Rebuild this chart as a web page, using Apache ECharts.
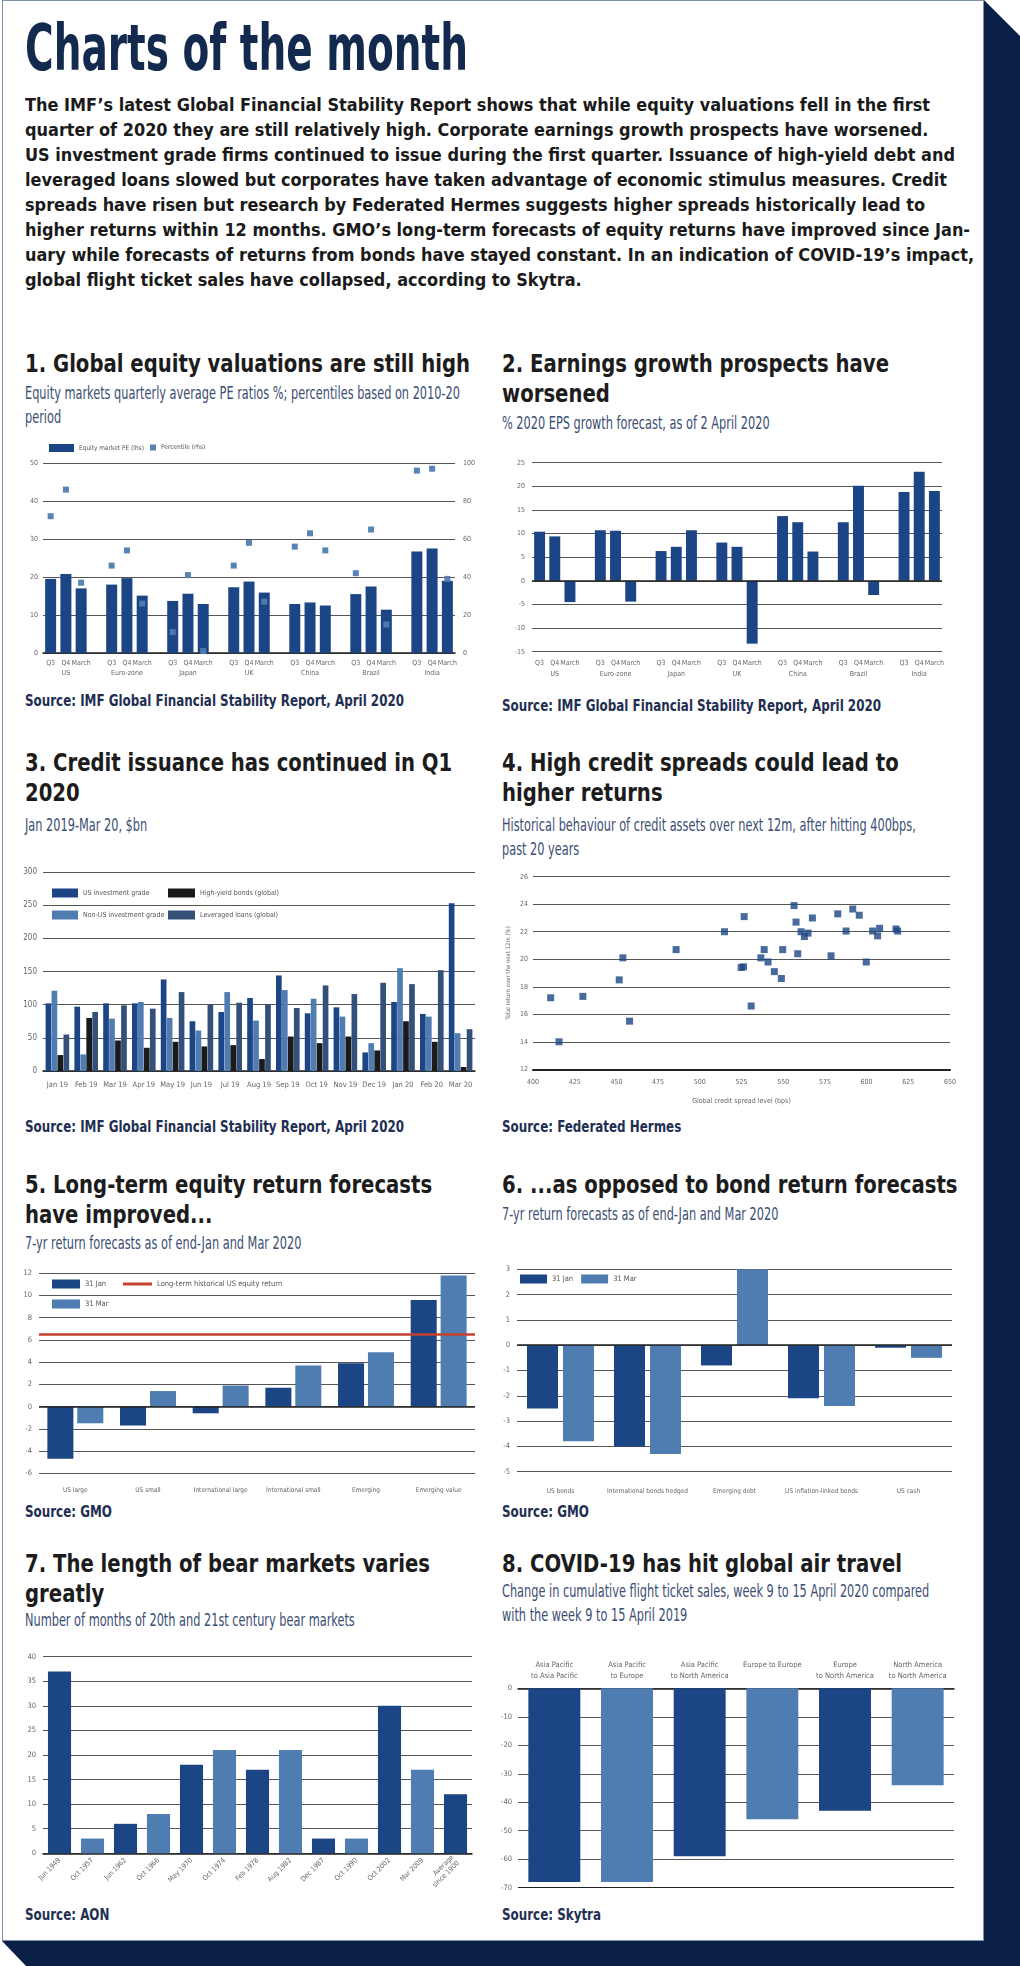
<!DOCTYPE html>
<html><head><meta charset="utf-8">
<script src="https://cdn.jsdelivr.net/npm/echarts@6/dist/echarts.min.js"></script>
<style>
html,body{margin:0;padding:0;background:#fff;}
body{width:1020px;height:1966px;position:relative;overflow:hidden;font-family:'DejaVu Sans Condensed','DejaVu Sans',sans-serif;}
#shadow{position:absolute;left:0;top:0;width:1020px;height:1966px;background:#0b2046;clip-path:polygon(984px 0px,1020px 36px,1020px 1966px,26px 1966px,2px 1941px,984px 1941px);}
#panel{position:absolute;left:2px;top:0px;width:980px;height:1939px;background:#fff;border:1px solid #8090aa;}
.t{position:absolute;white-space:nowrap;transform-origin:0 0;}
#main{left:25px;top:16px;font-size:64px;line-height:64px;font-weight:bold;color:#13294d;}
#para{left:25px;top:93px;font-size:17px;line-height:25px;font-weight:bold;color:#1a1a1a;}
.ct{font-size:25px;line-height:30px;font-weight:bold;color:#1c1c1c;}
.cs{font-size:18px;line-height:24px;color:#3b4e74;}
.src{font-size:15px;line-height:18px;font-weight:bold;color:#1f2f52;}
#chart{position:absolute;left:0;top:0;width:1020px;height:1966px;}
</style></head>
<body>
<div id="shadow"></div>
<div id="panel"></div>
<div class="t" id="main"><span id="mainSpan">Charts of the month</span></div>
<div class="t" id="para"><span id="p1">The IMF’s latest Global Financial Stability Report shows that while equity valuations fell in the first</span><br>quarter of 2020 they are still relatively high. Corporate earnings growth prospects have worsened.<br>US investment grade firms continued to issue during the first quarter. Issuance of high-yield debt and<br>leveraged loans slowed but corporates have taken advantage of economic stimulus measures. Credit<br>spreads have risen but research by Federated Hermes suggests higher spreads historically lead to<br>higher returns within 12 months. GMO’s long-term forecasts of equity returns have improved since Jan-<br>uary while forecasts of returns from bonds have stayed constant. In an indication of COVID-19’s impact,<br>global flight ticket sales have collapsed, according to Skytra.</div>

<div class="t ct" style="left:25px;top:349px"><span id="ctRef">1. Global equity valuations are still high</span></div>
<div class="t cs" style="left:25px;top:381px"><span id="csRef">Equity markets quarterly average PE ratios %; percentiles based on 2010-20</span><br>period</div>
<div class="t ct" style="left:502px;top:349px">2. Earnings growth prospects have<br>worsened</div>
<div class="t cs" style="left:502px;top:411px">% 2020 EPS growth forecast, as of 2 April 2020</div>
<div class="t src" style="left:25px;top:692px"><span id="srcRef">Source: IMF Global Financial Stability Report, April 2020</span></div>
<div class="t src" style="left:502px;top:697px">Source: IMF Global Financial Stability Report, April 2020</div>

<div class="t ct" style="left:25px;top:748px">3. Credit issuance has continued in Q1<br>2020</div>
<div class="t cs" style="left:25px;top:813px">Jan 2019-Mar 20, $bn</div>
<div class="t ct" style="left:502px;top:748px">4. High credit spreads could lead to<br>higher returns</div>
<div class="t cs" style="left:502px;top:813px">Historical behaviour of credit assets over next 12m, after hitting 400bps,<br>past 20 years</div>
<div class="t src" style="left:25px;top:1118px">Source: IMF Global Financial Stability Report, April 2020</div>
<div class="t src" style="left:502px;top:1118px">Source: Federated Hermes</div>

<div class="t ct" style="left:25px;top:1170px">5. Long-term equity return forecasts<br>have improved...</div>
<div class="t cs" style="left:25px;top:1231px">7-yr return forecasts as of end-Jan and Mar 2020</div>
<div class="t ct" style="left:502px;top:1170px">6. ...as opposed to bond return forecasts</div>
<div class="t cs" style="left:502px;top:1202px">7-yr return forecasts as of end-Jan and Mar 2020</div>
<div class="t src" style="left:25px;top:1503px">Source: GMO</div>
<div class="t src" style="left:502px;top:1503px">Source: GMO</div>

<div class="t ct" style="left:25px;top:1549px">7. The length of bear markets varies<br>greatly</div>
<div class="t cs" style="left:25px;top:1608px">Number of months of 20th and 21st century bear markets</div>
<div class="t ct" style="left:502px;top:1549px">8. COVID-19 has hit global air travel</div>
<div class="t cs" style="left:502px;top:1579px">Change in cumulative flight ticket sales, week 9 to 15 April 2020 compared<br>with the week 9 to 15 April 2019</div>
<div class="t src" style="left:25px;top:1906px">Source: AON</div>
<div class="t src" style="left:502px;top:1906px">Source: Skytra</div>

<div id="chart"></div>
<script>
// ---------- DATA ----------
const c1Countries = ['US','Euro-zone','Japan','UK','China','Brazil','India'];
const c1Periods = ['Q3','Q4','March'];
const c1PE = [[19.5,20.8,17.0],[18.0,19.7,15.1],[13.7,15.6,12.9],[17.3,18.8,15.9],[12.9,13.3,12.5],[15.5,17.5,11.4],[26.7,27.5,19.0]];
const c1Percentile = [[72,86,37],[46,54,26],[11,41,1],[46,58,27],[56,63,54],[42,65,15],[96,97,39]];

const c2EPS = [[10.4,9.4,-4.5],[10.7,10.6,-4.4],[6.3,7.2,10.7],[8.1,7.2,-13.3],[13.7,12.4,6.2],[12.4,20.1,-3.0],[18.8,23.1,19.0]];

const c3Months = ['Jan 19','Feb 19','Mar 19','Apr 19','May 19','Jun 19','Jul 19','Aug 19','Sep 19','Oct 19','Nov 19','Dec 19','Jan 20','Feb 20','Mar 20'];
const c3USIG = [102,97,102,102,138,75,89,110,144,87,96,28,104,86,253];
const c3NonUSIG = [121,25,79,104,80,61,119,76,122,109,82,42,155,82,57];
const c3HighYield = [24,80,46,35,44,37,39,18,52,42,52,31,75,44,6];
const c3LevLoans = [55,89,99,94,119,100,103,101,95,129,116,133,131,152,63];

const c4Points = [[410.6,17.2],[415.6,14.0],[429.9,17.3],[451.7,18.5],[453.9,20.1],[457.9,15.5],[485.8,20.7],[514.8,22.0],[526.6,23.1],[524.8,19.4],[526.2,19.45],[530.8,16.6],[536.6,20.1],[538.6,20.7],[540.9,19.8],[544.7,19.1],[548.9,18.6],[549.7,20.7],[556.5,23.9],[557.7,22.7],[558.7,20.4],[560.7,22.0],[562.7,21.65],[564.9,21.9],[567.5,23.0],[578.7,20.25],[582.7,23.3],[587.7,22.05],[591.7,23.65],[595.6,23.2],[599.8,19.8],[603.6,22.05],[606.6,21.7],[607.8,22.25],[617.6,22.2],[618.6,22.05]];

const c5Cats = ['US large','US small','International large','International small','Emerging','Emerging value'];
const c5Jan = [-4.7,-1.7,-0.6,1.7,3.9,9.6];
const c5Mar = [-1.5,1.4,1.9,3.7,4.9,11.8];
const c5LongTermUS = 6.5;

const c6Cats = ['US bonds','International bonds hedged','Emerging debt','US inflation-linked bonds','US cash'];
const c6Jan = [-2.5,-4.0,-0.8,-2.1,-0.1];
const c6Mar = [-3.8,-4.3,3.0,-2.4,-0.5];

const c7Cats = ['Jun 1949','Oct 1957','Jun 1962','Oct 1966','May 1970','Oct 1974','Feb 1978','Aug 1982','Dec 1987','Oct 1990','Oct 2002','Mar 2009','Average\nsince 1900'];
const c7Months = [37,3,6,8,18,21,17,21,3,3,30,17,12];

const c8Cats = ['Asia Pacific\nto Asia Pacific','Asia Pacific\nto Europe','Asia Pacific\nto North America','Europe to Europe','Europe\nto North America','North America\nto North America'];
const c8Change = [-68,-68,-59,-46,-43,-34];

// ---------- TEXT FITTING ----------
function w(el){return el.getBoundingClientRect().width;}
function scaleAll(sel, s){document.querySelectorAll(sel).forEach(e=>{e.style.transform='scaleX('+s+')';});}
const sMain = 443 / w(document.getElementById('mainSpan'));
const sPara = 905 / w(document.getElementById('p1'));
const sCt = 445 / w(document.getElementById('ctRef'));
const sCs = 435 / w(document.getElementById('csRef'));
const sSrc = 379 / w(document.getElementById('srcRef'));
scaleAll('#main', sMain); scaleAll('#para', sPara); scaleAll('.ct', sCt); scaleAll('.cs', sCs); scaleAll('.src', sSrc);

// ---------- CHART ----------
const FONT = "'DejaVu Sans Condensed', 'DejaVu Sans', sans-serif";
const DARK = '#1b4585', LIGHT = '#4f7db1', HY = '#1a1a1a', LL = '#344f78', RED = '#c4402f', GRIDC = '#555';
function lab(size, extra){return Object.assign({fontFamily:FONT, fontSize:size, color:'#666'}, extra||{});}
function slots(rows){const o=[];rows.forEach((r,i)=>{r.forEach(v=>o.push(v)); if(i<rows.length-1)o.push('-');});return o;}
function slotLabels(cs, ps){const o=[];cs.forEach((c,i)=>{ps.forEach((p,j)=>o.push(j===1?p+'\n'+c:p)); if(i<cs.length-1)o.push('');});return o;}
const split = {show:true, lineStyle:{color:GRIDC, width:1}};
function vAxis(g, min, max, interval, extra){
  return Object.assign({type:'value', gridIndex:g, min:min, max:max, interval:interval, axisLine:{show:false}, axisTick:{show:false}, axisLabel:lab(7.5,{margin:6}), splitLine:split}, extra||{});
}
function cAxis(g, data, extra){
  return Object.assign({type:'category', gridIndex:g, data:data, axisTick:{show:false}, axisLine:{show:true, onZero:false, lineStyle:{color:'#222', width:1.5}}, axisLabel:lab(7.5,{interval:0}), splitLine:{show:false}}, extra||{});
}
const zeroLine = {silent:true, symbol:'none', label:{show:false}, animation:false, lineStyle:{color:'#222', width:1.5, type:'solid'}, data:[{yAxis:0}]};
const legText = (s)=>({fontFamily:FONT, fontSize:s, color:'#555'});
const alt = (p)=> p.dataIndex % 2 ? LIGHT : DARK;

const option = {
  animation:false,
  grid:[
    {left:43, top:463, width:412, height:190, outerBoundsMode:'none'},
    {left:532, top:462.7, width:410, height:189, outerBoundsMode:'none'},
    {left:43, top:872, width:432, height:199, outerBoundsMode:'none'},
    {left:533, top:876.7, width:417, height:192.6, outerBoundsMode:'none'},
    {left:39, top:1273.3, width:436, height:200, outerBoundsMode:'none'},
    {left:517, top:1269.3, width:435, height:202.4, outerBoundsMode:'none'},
    {left:43, top:1656.7, width:429, height:196.6, outerBoundsMode:'none'},
    {left:518, top:1688.3, width:436, height:199.4, outerBoundsMode:'none'}
  ],
  legend:[
    {left:49, top:444, padding:0, icon:'rect', itemWidth:25, itemHeight:8, data:['Equity market PE (lhs)'], textStyle:legText(6.5)},
    {left:150, top:444, padding:0, icon:'rect', itemWidth:6, itemHeight:6, data:['Percentile (rhs)'], textStyle:legText(6.5)},
    {left:52, top:888, padding:0, orient:'vertical', icon:'rect', itemWidth:26, itemHeight:9, itemGap:12, data:['US investment grade','Non-US investment grade'], textStyle:Object.assign(legText(7),{lineHeight:10})},
    {left:168, top:888, padding:0, orient:'vertical', icon:'rect', itemWidth:27, itemHeight:9, itemGap:12, data:['High-yield bonds (global)','Leveraged loans (global)'], textStyle:Object.assign(legText(7),{lineHeight:10})},
    {left:52, top:1279, padding:0, orient:'vertical', icon:'rect', itemWidth:28, itemHeight:9, itemGap:10, data:['31 Jan','31 Mar'], textStyle:Object.assign(legText(7.5),{lineHeight:10})},
    {left:123, top:1279, padding:0, icon:'rect', itemWidth:29, itemHeight:3, data:['Long-term historical US equity return'], textStyle:Object.assign(legText(7.5),{lineHeight:10})},
    {left:520, top:1274, padding:0, icon:'rect', itemWidth:27, itemHeight:9, itemGap:8, data:['31 Jan','31 Mar'], textStyle:Object.assign(legText(7.5),{lineHeight:10})}
  ],
  xAxis:[
    cAxis(0, slotLabels(c1Countries, c1Periods), {axisLabel:lab(7,{interval:0, margin:5, lineHeight:10})}),
    cAxis(1, slotLabels(c1Countries, c1Periods), {axisLine:{show:false,onZero:false}, axisLabel:lab(7,{interval:0, margin:6, lineHeight:11})}),
    cAxis(2, c3Months, {axisLabel:lab(7.5,{interval:0, margin:10})}),
    {type:'value', gridIndex:3, min:400, max:650, interval:25, axisLine:{show:true, onZero:false, lineStyle:{color:'#222', width:2}}, axisTick:{show:false}, splitLine:{show:false}, axisLabel:lab(7,{margin:9}),
      name:'Global credit spread level (bps)', nameLocation:'middle', nameGap:28, nameTextStyle:lab(7)},
    cAxis(4, c5Cats, {axisLine:{show:false,onZero:false}, axisLabel:lab(6.5,{interval:0, margin:14})}),
    cAxis(5, c6Cats, {axisLine:{show:false,onZero:false}, axisLabel:lab(6.5,{interval:0, margin:16})}),
    cAxis(6, c7Cats, {axisLabel:lab(7,{interval:0, rotate:45, margin:6, lineHeight:8})}),
    cAxis(7, c8Cats, {position:'top', axisLabel:lab(7.5,{interval:0, margin:29, verticalAlign:'top', lineHeight:11})})
  ],
  yAxis:[
    vAxis(0, 0, 50, 10, {axisLabel:lab(7,{margin:5})}),
    vAxis(0, 0, 100, 20, {position:'right', splitLine:{show:false}, axisLabel:lab(7,{margin:8})}),
    vAxis(1, -15, 25, 5, {axisLabel:lab(7,{margin:7})}),
    vAxis(2, 0, 300, 50, {axisLabel:lab(8,{margin:6})}),
    vAxis(3, 12, 26, 2, {axisLabel:lab(7,{margin:5}), name:'Total return over the next 12m (%)', nameLocation:'middle', nameRotate:90, nameGap:22, nameTextStyle:lab(6)}),
    vAxis(4, -6, 12, 2, {axisLabel:lab(7.5,{margin:7})}),
    vAxis(5, -5, 3, 1, {axisLabel:lab(7.5,{margin:7})}),
    vAxis(6, 0, 40, 5, {axisLabel:lab(7.5,{margin:7})}),
    vAxis(7, -70, 0, 10, {axisLabel:lab(7.5,{margin:6}), splitLine:{show:true, lineStyle:{color:['#222',GRIDC,GRIDC,GRIDC,GRIDC,GRIDC,GRIDC,GRIDC], width:1}}})
  ],
  series:[
    {type:'bar', name:'Equity market PE (lhs)', xAxisIndex:0, yAxisIndex:0, data:slots(c1PE), barWidth:'72%', itemStyle:{color:DARK}},
    {type:'scatter', name:'Percentile (rhs)', xAxisIndex:0, yAxisIndex:1, data:slots(c1Percentile), symbol:'rect', symbolSize:6, itemStyle:{color:LIGHT, opacity:0.95}, z:5},

    {type:'bar', name:'2020 EPS growth forecast', xAxisIndex:1, yAxisIndex:2, data:slots(c2EPS), barWidth:'72%', itemStyle:{color:DARK}, markLine:zeroLine},

    {type:'bar', name:'US investment grade', xAxisIndex:2, yAxisIndex:3, data:c3USIG, barGap:'5%', barCategoryGap:'18%', itemStyle:{color:DARK}},
    {type:'bar', name:'Non-US investment grade', xAxisIndex:2, yAxisIndex:3, data:c3NonUSIG, barGap:'5%', barCategoryGap:'18%', itemStyle:{color:LIGHT}},
    {type:'bar', name:'High-yield bonds (global)', xAxisIndex:2, yAxisIndex:3, data:c3HighYield, barGap:'5%', barCategoryGap:'18%', itemStyle:{color:HY}},
    {type:'bar', name:'Leveraged loans (global)', xAxisIndex:2, yAxisIndex:3, data:c3LevLoans, barGap:'5%', barCategoryGap:'18%', itemStyle:{color:LL}},

    {type:'scatter', name:'Credit assets', xAxisIndex:3, yAxisIndex:4, data:c4Points, symbol:'rect', symbolSize:7, itemStyle:{color:DARK}},

    {type:'bar', name:'31 Jan', xAxisIndex:4, yAxisIndex:5, data:c5Jan, barGap:'15%', barCategoryGap:'23%', itemStyle:{color:DARK},
      markLine:{silent:true, symbol:'none', label:{show:false}, animation:false, z:10,
        data:[{yAxis:0, lineStyle:{color:'#222', width:1.5, type:'solid'}}, {yAxis:c5LongTermUS, lineStyle:{color:RED, width:2.5, type:'solid'}}]}},
    {type:'bar', name:'31 Mar', xAxisIndex:4, yAxisIndex:5, data:c5Mar, barGap:'15%', barCategoryGap:'23%', itemStyle:{color:LIGHT}},
    {type:'line', name:'Long-term historical US equity return', xAxisIndex:4, yAxisIndex:5, data:[], itemStyle:{color:RED}, lineStyle:{color:RED}},

    {type:'bar', name:'31 Jan', xAxisIndex:5, yAxisIndex:6, data:c6Jan, barGap:'16%', barCategoryGap:'23%', itemStyle:{color:DARK}, markLine:zeroLine},
    {type:'bar', name:'31 Mar', xAxisIndex:5, yAxisIndex:6, data:c6Mar, barGap:'16%', barCategoryGap:'23%', itemStyle:{color:LIGHT}},

    {type:'bar', name:'Bear market length (months)', xAxisIndex:6, yAxisIndex:7, data:c7Months, barCategoryGap:'30%', itemStyle:{color:alt}},

    {type:'bar', name:'Change in flight ticket sales', xAxisIndex:7, yAxisIndex:8, data:c8Change, barCategoryGap:'28.5%', itemStyle:{color:alt}}
  ]
};
const chart = echarts.init(document.getElementById('chart'));
chart.setOption(option);
</script>
</body></html>
